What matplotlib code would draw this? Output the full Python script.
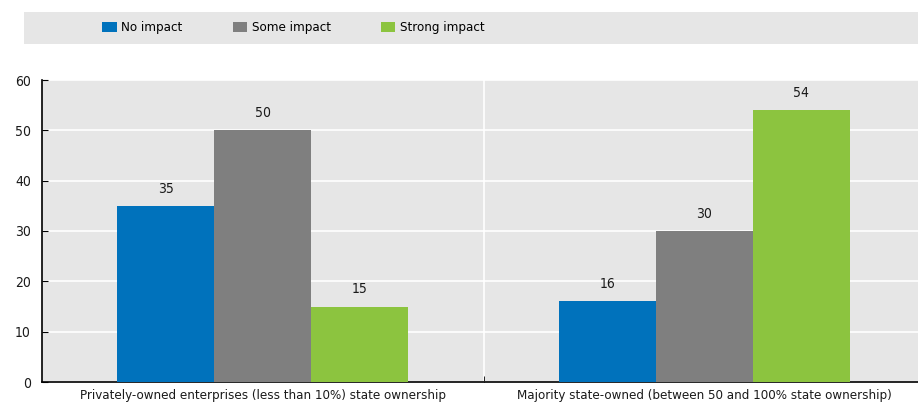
import numpy as np
import matplotlib.pyplot as plt
from matplotlib.patches import Rectangle

categories = ["Privately-owned enterprises (less than 10%) state ownership",
              "Majority state-owned (between 50 and 100% state ownership)"]
series = ["No impact", "Some impact", "Strong impact"]
no_impact = [35, 16]
some_impact = [50, 30]
strong_impact = [15, 54]
colors = ["#0072BC", "#7F7F7F", "#8CC43F"]

plt.rcParams['font.family'] = ['DejaVu Sans']
plt.rcParams['font.stretch'] = 'condensed'

fig = plt.figure(figsize=(9.18, 4.07), dpi=100)
ax = fig.add_axes([42 / 918, 1 - 382 / 407, 1 - 42 / 918, (382 - 80) / 407])
ax.set_facecolor("#E6E6E6")

x = np.arange(len(categories))
w = 0.22
handles = []
for i, (vals, c) in enumerate(zip([no_impact, some_impact, strong_impact], colors)):
    b = ax.bar(x + (i - 1) * w, vals, width=w, color=c, zorder=3, label=series[i])
    handles.append(b)
    for xi, v in zip(x + (i - 1) * w, vals):
        ax.text(xi, v + 2, str(v), ha="center", va="bottom", fontsize=10, color="#1a1a1a")

ax.set_xlim(-0.5, 1.484)
ax.set_ylim(0, 60)
ax.set_yticks(range(0, 61, 10))
ax.yaxis.grid(True, color="white", linewidth=1.2, zorder=0)
ax.axvline(0.5, color="white", linewidth=1.2, zorder=1)
ax.set_xticks(x)
ax.set_xticklabels(categories, fontsize=9.5, color="#1a1a1a")
ax.set_xticks([0.5], minor=True)
ax.tick_params(axis="x", which="major", length=0, pad=5)
ax.tick_params(axis="x", which="minor", length=4, direction="in")
ax.tick_params(axis="y", length=4, direction="in", labelsize=10, pad=8, labelcolor="#1a1a1a")
for s in ["top", "right"]:
    ax.spines[s].set_visible(False)
for s in ["left", "bottom"]:
    ax.spines[s].set_color("black")
    ax.spines[s].set_linewidth(1.2)

# legend band
fig.patches.append(Rectangle((24 / 918, 1 - 44 / 407), 1 - 24 / 918, 32 / 407,
                             transform=fig.transFigure, facecolor="#E6E6E6",
                             edgecolor="none", zorder=0))
fig.legend(handles=handles, labels=series, loc="center left", ncol=3,
           bbox_to_anchor=(102 / 918, 1 - 28 / 407), frameon=False, fontsize=9.5,
           borderpad=0, borderaxespad=0,
           handlelength=1.1, handleheight=0.8, columnspacing=3.8, handletextpad=0.35)

fig.savefig("out.png", dpi=100)
